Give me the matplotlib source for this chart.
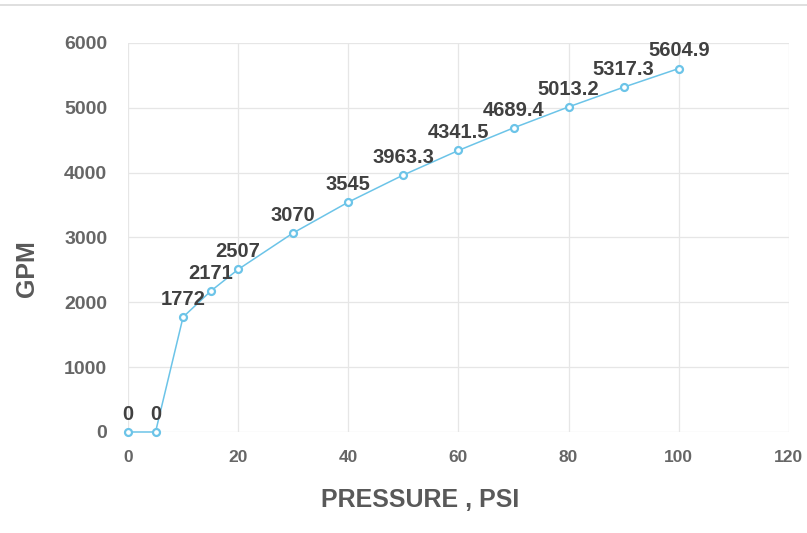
import matplotlib
matplotlib.use("Agg")
import matplotlib.pyplot as plt

pressure = [0, 5, 10, 15, 20, 30, 40, 50, 60, 70, 80, 90, 100]
gpm = [0, 0, 1772, 2171, 2507, 3070, 3545, 3963.3, 4341.5, 4689.4, 5013.2, 5317.3, 5604.9]
labels = ["0", "0", "1772", "2171", "2507", "3070", "3545", "3963.3", "4341.5",
          "4689.4", "5013.2", "5317.3", "5604.9"]
xticks = [0, 20, 40, 60, 80, 100, 120]
yticks = [0, 1000, 2000, 3000, 4000, 5000, 6000]

LINE = "#6cc4e8"
GRID = "#e6e6e6"
TICK = "#666666"
SANS = ["Liberation Sans", "DejaVu Sans"]

fig = plt.figure(figsize=(8.07, 5.33), dpi=100)
ax = fig.add_axes([0.1586, 0.1895, 0.819, 0.730])
ax.plot(pressure, gpm, color=LINE, lw=1.1, marker="o", ms=5, mfc="white",
        mec=LINE, mew=1.6, zorder=3, clip_on=False)
for x, y, s in zip(pressure, gpm, labels):
    ax.annotate(s, (x, y), xytext=(0, 6), textcoords="offset points", ha="center",
                va="bottom", fontsize=14.5, fontweight="bold", color="#404040",
                family=SANS)

ax.set_xlim(0, 120)
ax.set_ylim(0, 6000)
ax.set_xticks(xticks)
ax.set_yticks(yticks)
ax.grid(True, color=GRID, lw=0.9)
ax.set_axisbelow(True)
for sp in ax.spines.values():
    sp.set_visible(False)
ax.tick_params(length=0)
ax.tick_params(axis="x", pad=13)
ax.tick_params(axis="y", pad=15)
for t in ax.get_xticklabels():
    t.set_fontfamily(SANS)
    t.set_fontsize(12.5)
    t.set_fontweight("bold")
    t.set_color(TICK)
for t in ax.get_yticklabels():
    t.set_fontfamily(SANS)
    t.set_fontsize(14)
    t.set_fontweight("bold")
    t.set_color(TICK)

ax.set_xlabel("PRESSURE , PSI", fontsize=18, fontweight="bold", color="#595959",
              family=SANS)
ax.xaxis.set_label_coords(0.442, -0.145)
ax.set_ylabel("GPM", fontsize=18, fontweight="bold", color="#595959", family=SANS)
ax.yaxis.set_label_coords(-0.135, 0.42)

# thin frame line at top of the chart area
fig.add_artist(plt.Line2D([0, 1], [0.991, 0.991], color="#d9d9d9", lw=1.2))

fig.savefig("out.png", dpi=100)
